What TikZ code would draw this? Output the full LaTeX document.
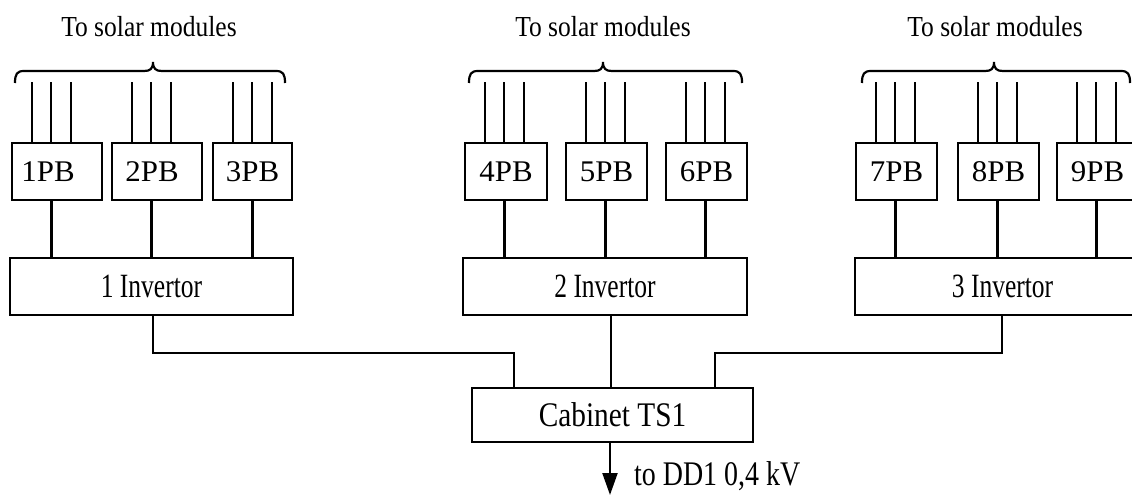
\documentclass[tikz,border=0pt]{standalone}
\usepackage{fontspec}
\usepackage{graphicx}
\setmainfont{Liberation Serif}
\usetikzlibrary{arrows.meta}
\newcommand\fsz[1]{\fontsize{#1}{#1}\selectfont}
\newcommand\hsc[2]{\scalebox{#1}[1]{#2}}
\newcommand\solbrace[3]{%
  \draw (#1,83) .. controls (#1,74) and (#1+2,71) .. (#1+9,71) -- (#2-9,71)
    .. controls (#2-3,71) and (#2,69) .. (#2,62)
    .. controls (#2,69) and (#2+3,71) .. (#2+9,71) -- (#3-9,71)
    .. controls (#3-2,71) and (#3,74) .. (#3,83);}
\begin{document}
\begin{tikzpicture}[x=1pt,y=-1pt,line width=2.2pt,
  pbbox/.style={draw,minimum height=57pt,inner sep=0pt,font=\fsz{30}},
  invbox/.style={draw,minimum height=57pt,inner sep=0pt,font=\fsz{34}},
  cabbox/.style={draw,minimum height=54pt,inner sep=0pt,font=\fsz{34.5}},
  toptext/.style={anchor=base,inner sep=0pt,font=\fsz{29}}]
\useasboundingbox (0,0) rectangle (1132,495);

% top labels and braces
\node[toptext] (t1) at (149,37) {\hsc{0.88}{To solar modules}};
\node[toptext] (t2) at (603,37) {\hsc{0.88}{To solar modules}};
\node[toptext] (t3) at (995,37) {\hsc{0.88}{To solar modules}};
\solbrace{15}{153}{285}
\solbrace{469}{603}{742}
\solbrace{862}{994}{1130}

% PB boxes
\node[pbbox,minimum width=90pt] (pb1) at (57,171.5) {\hsc{1.03}{1PB}\kern18pt};
\node[pbbox,minimum width=90pt] (pb2) at (157,171.5) {\hsc{1.03}{2PB}\kern10pt};
\node[pbbox,minimum width=79pt] (pb3) at (252.5,171.5) {\hsc{1.03}{3PB}};
\node[pbbox,minimum width=82pt] (pb4) at (506,171.5) {\hsc{1.03}{4PB}};
\node[pbbox,minimum width=81pt] (pb5) at (606.5,171.5) {\hsc{1.03}{5PB}};
\node[pbbox,minimum width=81pt] (pb6) at (706.5,171.5) {\hsc{1.03}{6PB}};
\node[pbbox,minimum width=81pt] (pb7) at (896.5,171.5) {\hsc{1.03}{7PB}};
\node[pbbox,minimum width=81pt] (pb8) at (998.5,171.5) {\hsc{1.03}{8PB}};
\node[pbbox,minimum width=81pt] (pb9) at (1097.5,171.5) {\hsc{1.03}{9PB}};

% inverters
\node[invbox,minimum width=283pt] (inv1) at (151.5,286.5) {\hsc{0.75}{1 Invertor}};
\node[invbox,minimum width=284pt] (inv2) at (605,286.5) {\hsc{0.75}{2 Invertor}};
\node[invbox,minimum width=295pt] (inv3) at (1002.5,286.5) {\hsc{0.75}{3 Invertor}};

% cabinet
\node[cabbox,minimum width=281pt] (cab) at (612.5,415) {\hsc{0.85}{Cabinet TS1}};

% module lines and PB -> inverter connectors
\foreach \b/\i in {pb1/inv1,pb2/inv1,pb3/inv1,pb4/inv2,pb5/inv2,pb6/inv2,pb7/inv3,pb8/inv3,pb9/inv3}{
  \foreach \d in {21,40,60}
    \draw ([xshift=\d pt]\b.north west) -- ++(0,-60);
  \draw ([xshift=40.5pt]\b.south west) -- ([xshift=40.5pt]\b.south west |- \i.north);
}

% inverter -> cabinet
\draw ([xshift=1.5pt]inv1.south) -- ++(0,37) -| ([xshift=-98.5pt]cab.north);
\draw ([xshift=6pt]inv2.south) -- ([xshift=6pt]inv2.south |- cab.north);
\draw ([xshift=-0.5pt]inv3.south) -- ++(0,37) -| ([xshift=102.5pt]cab.north);

% output arrow
\coordinate (tip) at (610,495);
\draw[-{Triangle[length=22pt,width=15pt]}] ([xshift=-2.5pt]cab.south) -- (tip);
\node[anchor=base west,inner sep=0pt,font=\fsz{34.5}] (dd) at (633,485) {\hsc{0.81}{to DD1 0,4 kV}};
\end{tikzpicture}
\end{document}
